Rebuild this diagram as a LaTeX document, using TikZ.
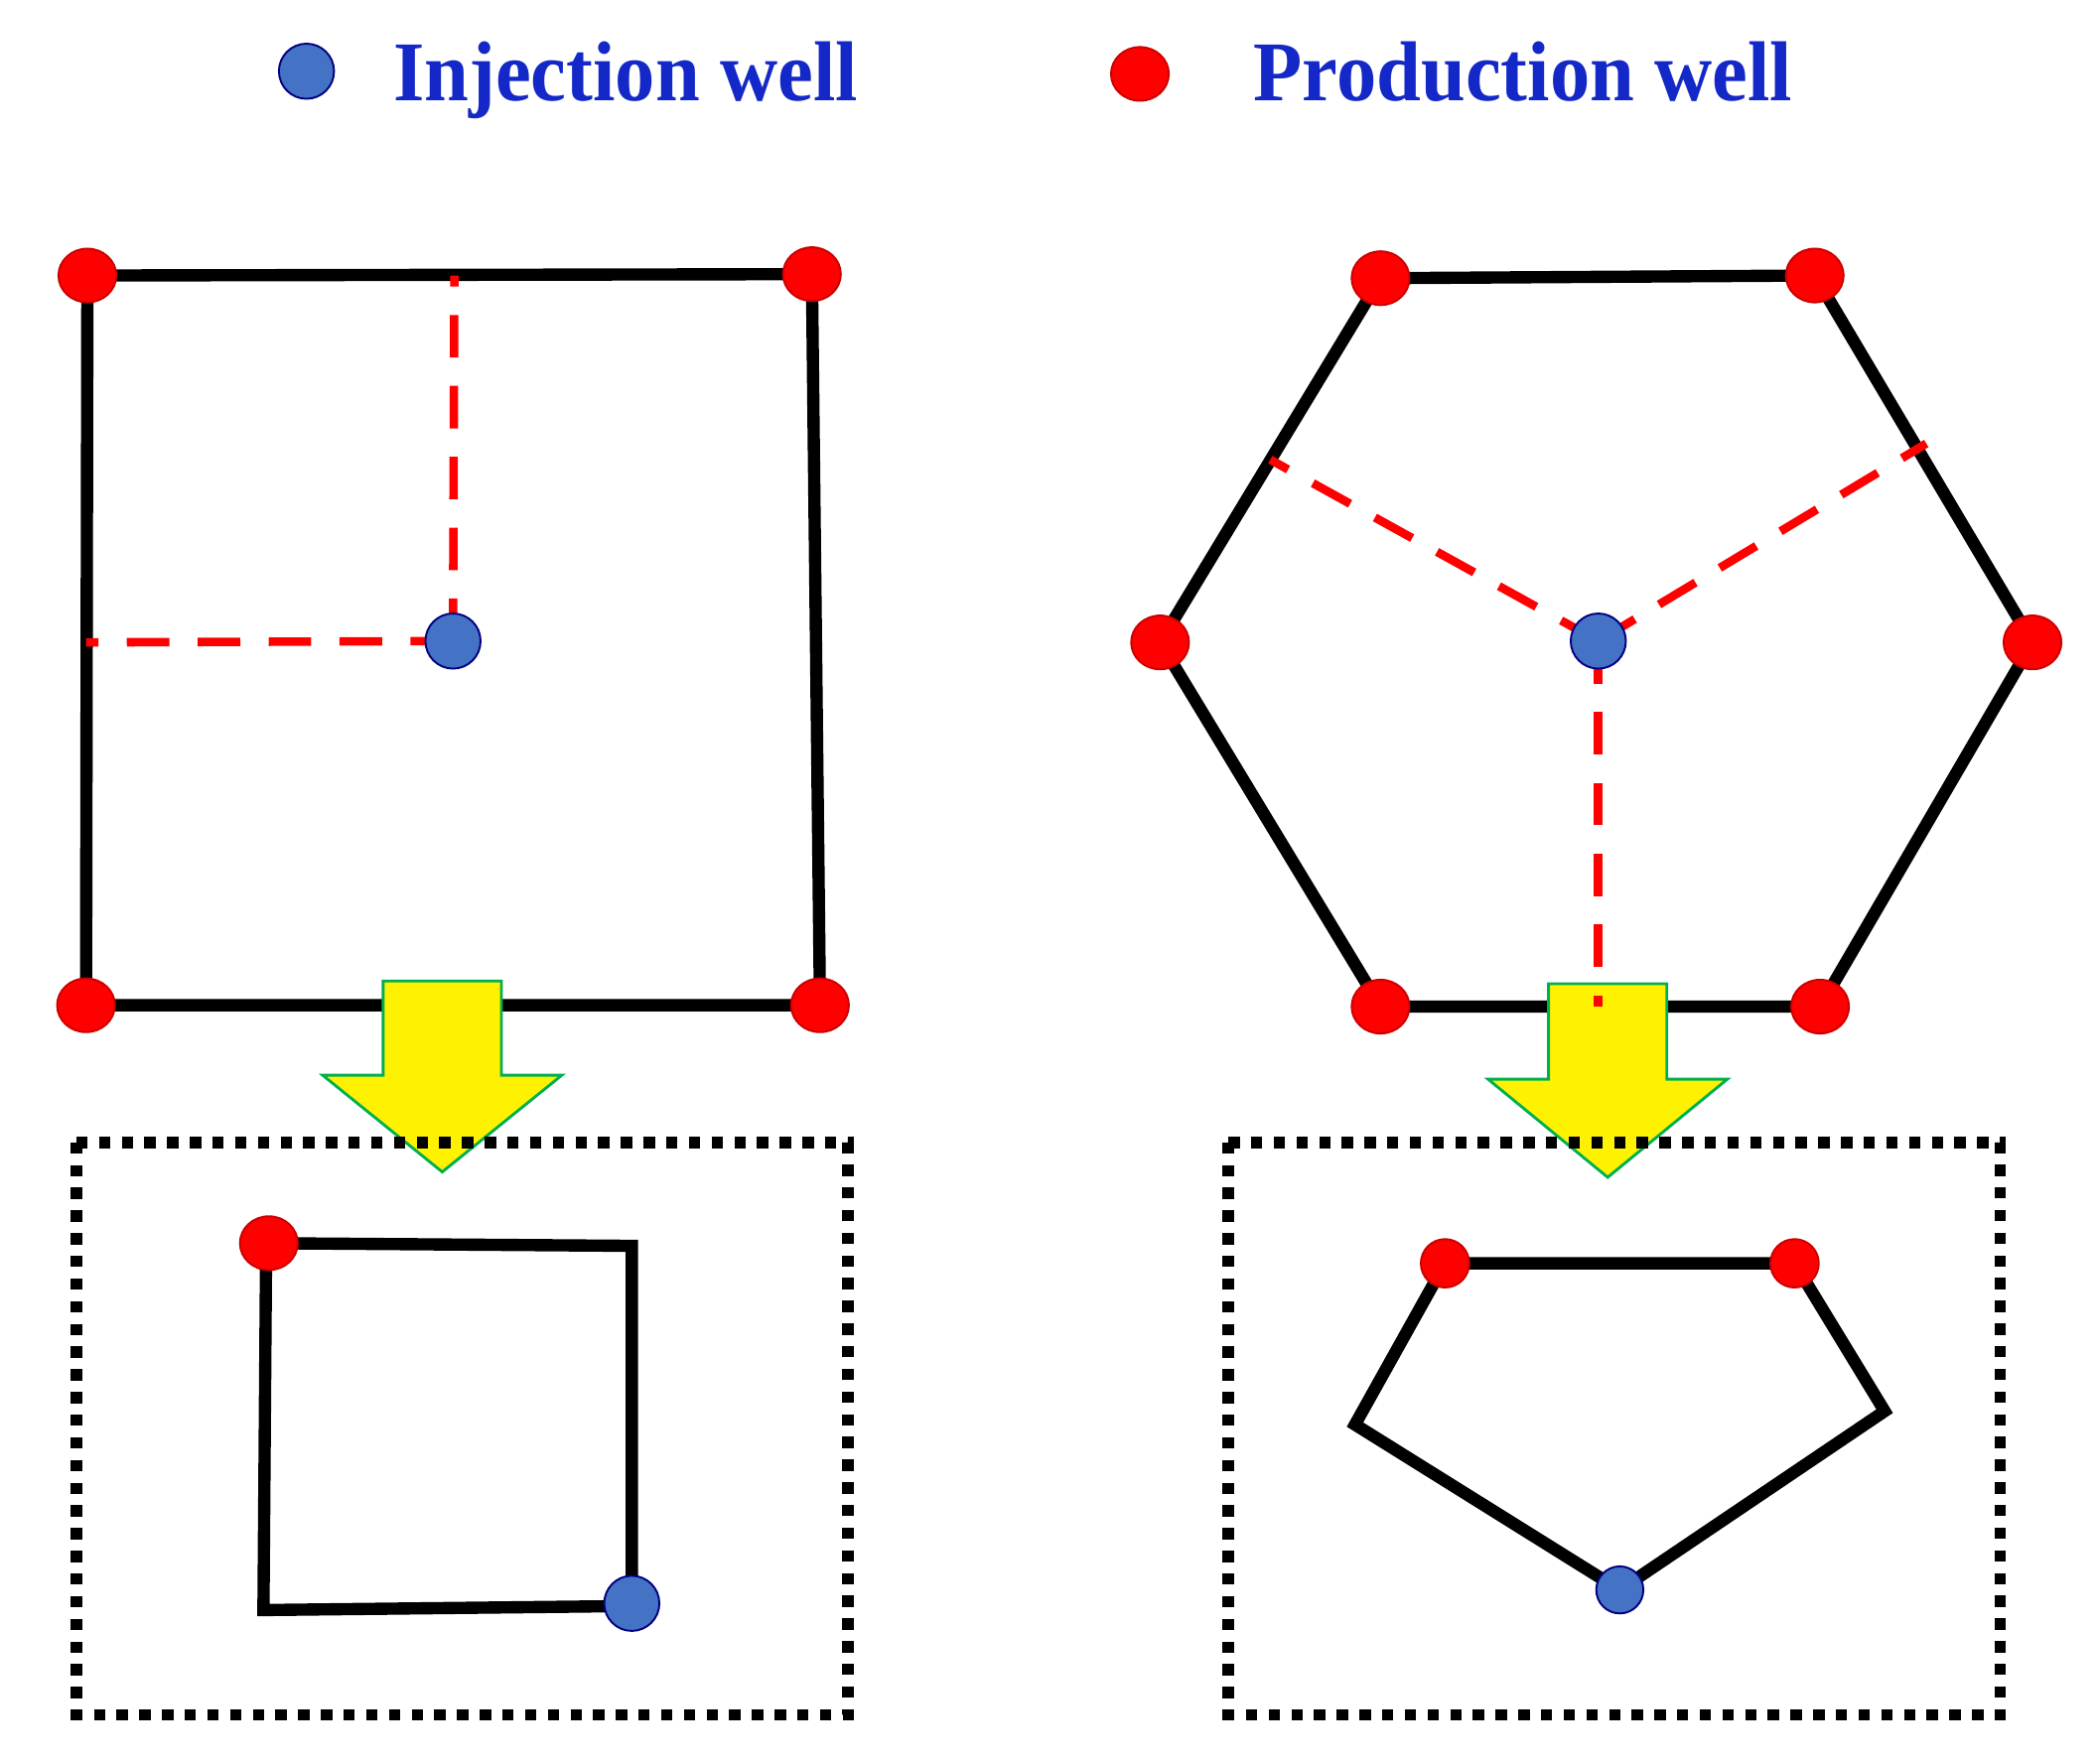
\documentclass[tikz,border=0pt]{standalone}
\usetikzlibrary{shapes.geometric}
\usepackage{fontspec}
\setmainfont{Liberation Serif}
\begin{document}
\begin{tikzpicture}[x=0.01cm,y=-0.01cm,
 edge/.style={line width=2.6pt,black},
 rdash/.style={red,line width=1.8pt,dash pattern=on 9pt off 6pt},
 dotbox/.style={line width=2.5pt,dash pattern=on 2.4pt off 2.4pt},
 rw/.style={ellipse,draw=red!80!black,fill=red,minimum width=0.43cm,minimum height=0.4cm,inner sep=0pt},
 bw/.style={circle,draw=blue!50!black,fill={rgb,255:red,68;green,114;blue,196},minimum size=0.41cm,inner sep=0pt},
 rws/.style={rw,minimum width=0.36cm,minimum height=0.36cm},
 bws/.style={bw,minimum size=0.35cm},
 arr/.style={fill=yellow,draw={rgb,255:red,0;green,176;blue,80},line width=0.6pt},
 lab/.style={anchor=base west,text={rgb,255:red,20;green,40;blue,200},font=\fontsize{18}{22}\selectfont\bfseries,inner sep=0pt}]
\useasboundingbox (0,0) rectangle (1560,1312);
% legend
\node[bw] (lb) at (228,53) {};
\node[lab,xscale=0.94] (lt) at (292,75) {Injection well};
\node[rw] (lr) at (848,55) {};
\node[lab,xscale=0.94] (lp) at (932,75) {Production well};
% square
\coordinate (s1) at (65,205); \coordinate (s2) at (604,204);
\coordinate (s3) at (610,748); \coordinate (s4) at (64,748);
\draw[edge] (s1) -- (s2) -- (s3) -- (s4) -- cycle;
% hexagon
\coordinate (h1) at (1027,207); \coordinate (h2) at (1350,205);
\coordinate (h3) at (1512,478); \coordinate (h4) at (1354,749);
\coordinate (h5) at (1027,749); \coordinate (h6) at (863,478);
\draw[edge] (h1) -- (h2) -- (h3) -- (h4) -- (h5) -- (h6) -- cycle;
% arrows
\draw[arr] (285,730) -- (373,730) -- (373,800) -- (418,800) -- (329,872) -- (240,800) -- (285,800) -- cycle;
\draw[arr] (1152,732) -- (1240,732) -- (1240,803) -- (1285,803) -- (1196,876) -- (1107,803) -- (1152,803) -- cycle;
% square dashes and wells
\coordinate (sc) at (337,477);
\coordinate (st) at (338,205); \coordinate (sl) at (64,478);
\draw[rdash] (sc) -- (st); \draw[rdash] (sc) -- (sl);
\node[rw] (r1) at (s1) {}; \node[rw] (r2) at (s2) {};
\node[rw] (r3) at (s3) {}; \node[rw] (r4) at (s4) {};
\node[bw] (b1) at (sc) {};
% hexagon dashes and wells
\coordinate (hc) at (1189,477);
\coordinate (m1) at (945,342); \coordinate (m2) at (1433,330); \coordinate (m3) at (1189,749);
\draw[rdash] (hc) -- (m1); \draw[rdash] (hc) -- (m2); \draw[rdash] (hc) -- (m3);
\foreach \p in {h1,h2,h3,h4,h5,h6} \node[rw] (n\p) at (\p) {};
\node[bw] (b2) at (hc) {};
% dotted boxes
\draw[dotbox] (57,850) rectangle (631,1276);
\draw[dotbox] (914,850) rectangle (1488,1276);
% small square
\coordinate (q1) at (198,925); \coordinate (q2) at (470,927);
\coordinate (q3) at (470,1195); \coordinate (q4) at (196,1198);
\draw[edge] (q1) -- (q2) -- (q3) -- (q4) -- cycle;
\node[rw] (qr) at (200,925) {}; \node[bw] (qb) at (470,1193) {};
% pentagon
\coordinate (p1) at (1075,940); \coordinate (p2) at (1335,940);
\coordinate (p3) at (1402,1050); \coordinate (p4) at (1205,1183);
\coordinate (p5) at (1008,1060);
\draw[edge] (p1) -- (p2) -- (p3) -- (p4) -- (p5) -- cycle;
\node[rws] (pr1) at (p1) {}; \node[rws] (pr2) at (p2) {};
\node[bws] (pb) at (p4) {};
\end{tikzpicture}
\end{document}
